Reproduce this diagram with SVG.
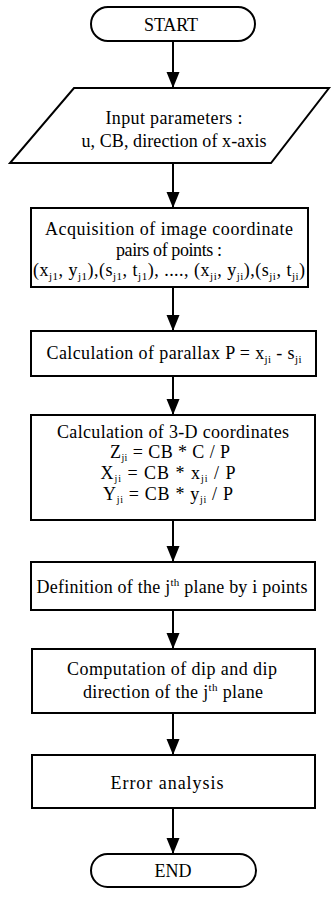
<svg xmlns="http://www.w3.org/2000/svg" width="332" height="898" viewBox="0 0 332 898">
<style>
.s{fill:#fff;stroke:#000;stroke-width:2}
.t{font-family:"Liberation Serif","Times New Roman",serif;font-size:18px;fill:#000;text-anchor:middle}
.sub{font-size:11px}
.sm{font-size:10px}
.c{stroke:#000;stroke-width:2;fill:none}
</style>
<defs>
<marker id="ah" markerWidth="16" markerHeight="14" refX="16" refY="7" orient="auto" markerUnits="userSpaceOnUse" viewBox="0 0 16 14">
<path d="M0,0.5 L16,7 L0,13.5 Z" fill="#000"/>
</marker>
</defs>
<rect width="332" height="898" fill="#fff"/>
<g id="connectors">
<line class="c" x1="173" y1="41" x2="173" y2="88" marker-end="url(#ah)"/>
<line class="c" x1="173" y1="163" x2="173" y2="208" marker-end="url(#ah)"/>
<line class="c" x1="173" y1="287" x2="173" y2="331" marker-end="url(#ah)"/>
<line class="c" x1="173" y1="376" x2="173" y2="415" marker-end="url(#ah)"/>
<line class="c" x1="173" y1="520" x2="173" y2="562" marker-end="url(#ah)"/>
<line class="c" x1="173" y1="610" x2="173" y2="649" marker-end="url(#ah)"/>
<line class="c" x1="173" y1="713" x2="173" y2="755" marker-end="url(#ah)"/>
<line class="c" x1="173" y1="808" x2="173" y2="854" marker-end="url(#ah)"/>
</g>
<g id="start">
<rect class="s" x="91" y="7" width="164" height="34" rx="17"/>
<text class="t" x="171" y="31" textLength="54" lengthAdjust="spacing">START</text>
</g>
<g id="input">
<polygon class="s" points="74,88 329,88 271,163 10,163"/>
<text class="t" x="174" y="124" textLength="137" lengthAdjust="spacing">Input parameters :</text>
<text class="t" x="174" y="147" textLength="185" lengthAdjust="spacing">u, CB, direction of x-axis</text>
</g>
<g id="acquisition">
<rect class="s" x="31" y="208" width="277" height="79"/>
<text class="t" x="169" y="235" textLength="248" lengthAdjust="spacing">Acquisition of image coordinate</text>
<text class="t" x="169" y="256" textLength="106" lengthAdjust="spacing">pairs of points :</text>
<text class="t" x="169" y="276" textLength="272" lengthAdjust="spacing">(x<tspan class="sub" dy="4">j1</tspan><tspan dy="-4">, y</tspan><tspan class="sub" dy="4">j1</tspan><tspan dy="-4">),(s</tspan><tspan class="sub" dy="4">j1</tspan><tspan dy="-4">, t</tspan><tspan class="sub" dy="4">j1</tspan><tspan dy="-4">), ...., (x</tspan><tspan class="sub" dy="4">ji</tspan><tspan dy="-4">, y</tspan><tspan class="sub" dy="4">ji</tspan><tspan dy="-4">),(s</tspan><tspan class="sub" dy="4">ji</tspan><tspan dy="-4">, t</tspan><tspan class="sub" dy="4">ji</tspan><tspan dy="-4">)</tspan></text>
</g>
<g id="parallax">
<rect class="s" x="31" y="331" width="285" height="45"/>
<text class="t" x="174" y="359" textLength="255" lengthAdjust="spacing">Calculation of parallax P = x<tspan class="sub" dy="4">ji</tspan><tspan dy="-4"> - s</tspan><tspan class="sub" dy="4">ji</tspan></text>
</g>
<g id="coords3d">
<rect class="s" x="31" y="415" width="284" height="105"/>
<text class="t" x="173" y="438" textLength="232" lengthAdjust="spacing">Calculation of 3-D coordinates</text>
<text class="t" x="170" y="458" textLength="120" lengthAdjust="spacing">Z<tspan class="sm" dy="3">ji</tspan><tspan dy="-3"> = CB * C / P</tspan></text>
<text class="t" x="168" y="479" textLength="135" lengthAdjust="spacing">X<tspan class="sm" dy="3">ji</tspan><tspan dy="-3"> = CB * x</tspan><tspan class="sm" dy="3">ji</tspan><tspan dy="-3"> / P</tspan></text>
<text class="t" x="168" y="500" textLength="130" lengthAdjust="spacing">Y<tspan class="sm" dy="3">ji</tspan><tspan dy="-3"> = CB * y</tspan><tspan class="sm" dy="3">ji</tspan><tspan dy="-3"> / P</tspan></text>
</g>
<g id="definition">
<rect class="s" x="31" y="562" width="284" height="48"/>
<text class="t" x="172" y="593" textLength="271" lengthAdjust="spacing">Definition of the j<tspan class="sub" dy="-7">th</tspan><tspan dy="7"> plane by i points</tspan></text>
</g>
<g id="computation">
<rect class="s" x="32" y="649" width="283" height="64"/>
<text class="t" x="172" y="675" textLength="210" lengthAdjust="spacing">Computation of dip and dip</text>
<text class="t" x="173" y="698" textLength="180" lengthAdjust="spacing">direction of the j<tspan class="sub" dy="-7">th</tspan><tspan dy="7"> plane</tspan></text>
</g>
<g id="error">
<rect class="s" x="32" y="755" width="283" height="53"/>
<text class="t" x="167" y="789" textLength="113" lengthAdjust="spacing">Error analysis</text>
</g>
<g id="end">
<rect class="s" x="91" y="854" width="165" height="33" rx="16.5"/>
<text class="t" x="173" y="877" textLength="37" lengthAdjust="spacing">END</text>
</g>
</svg>
